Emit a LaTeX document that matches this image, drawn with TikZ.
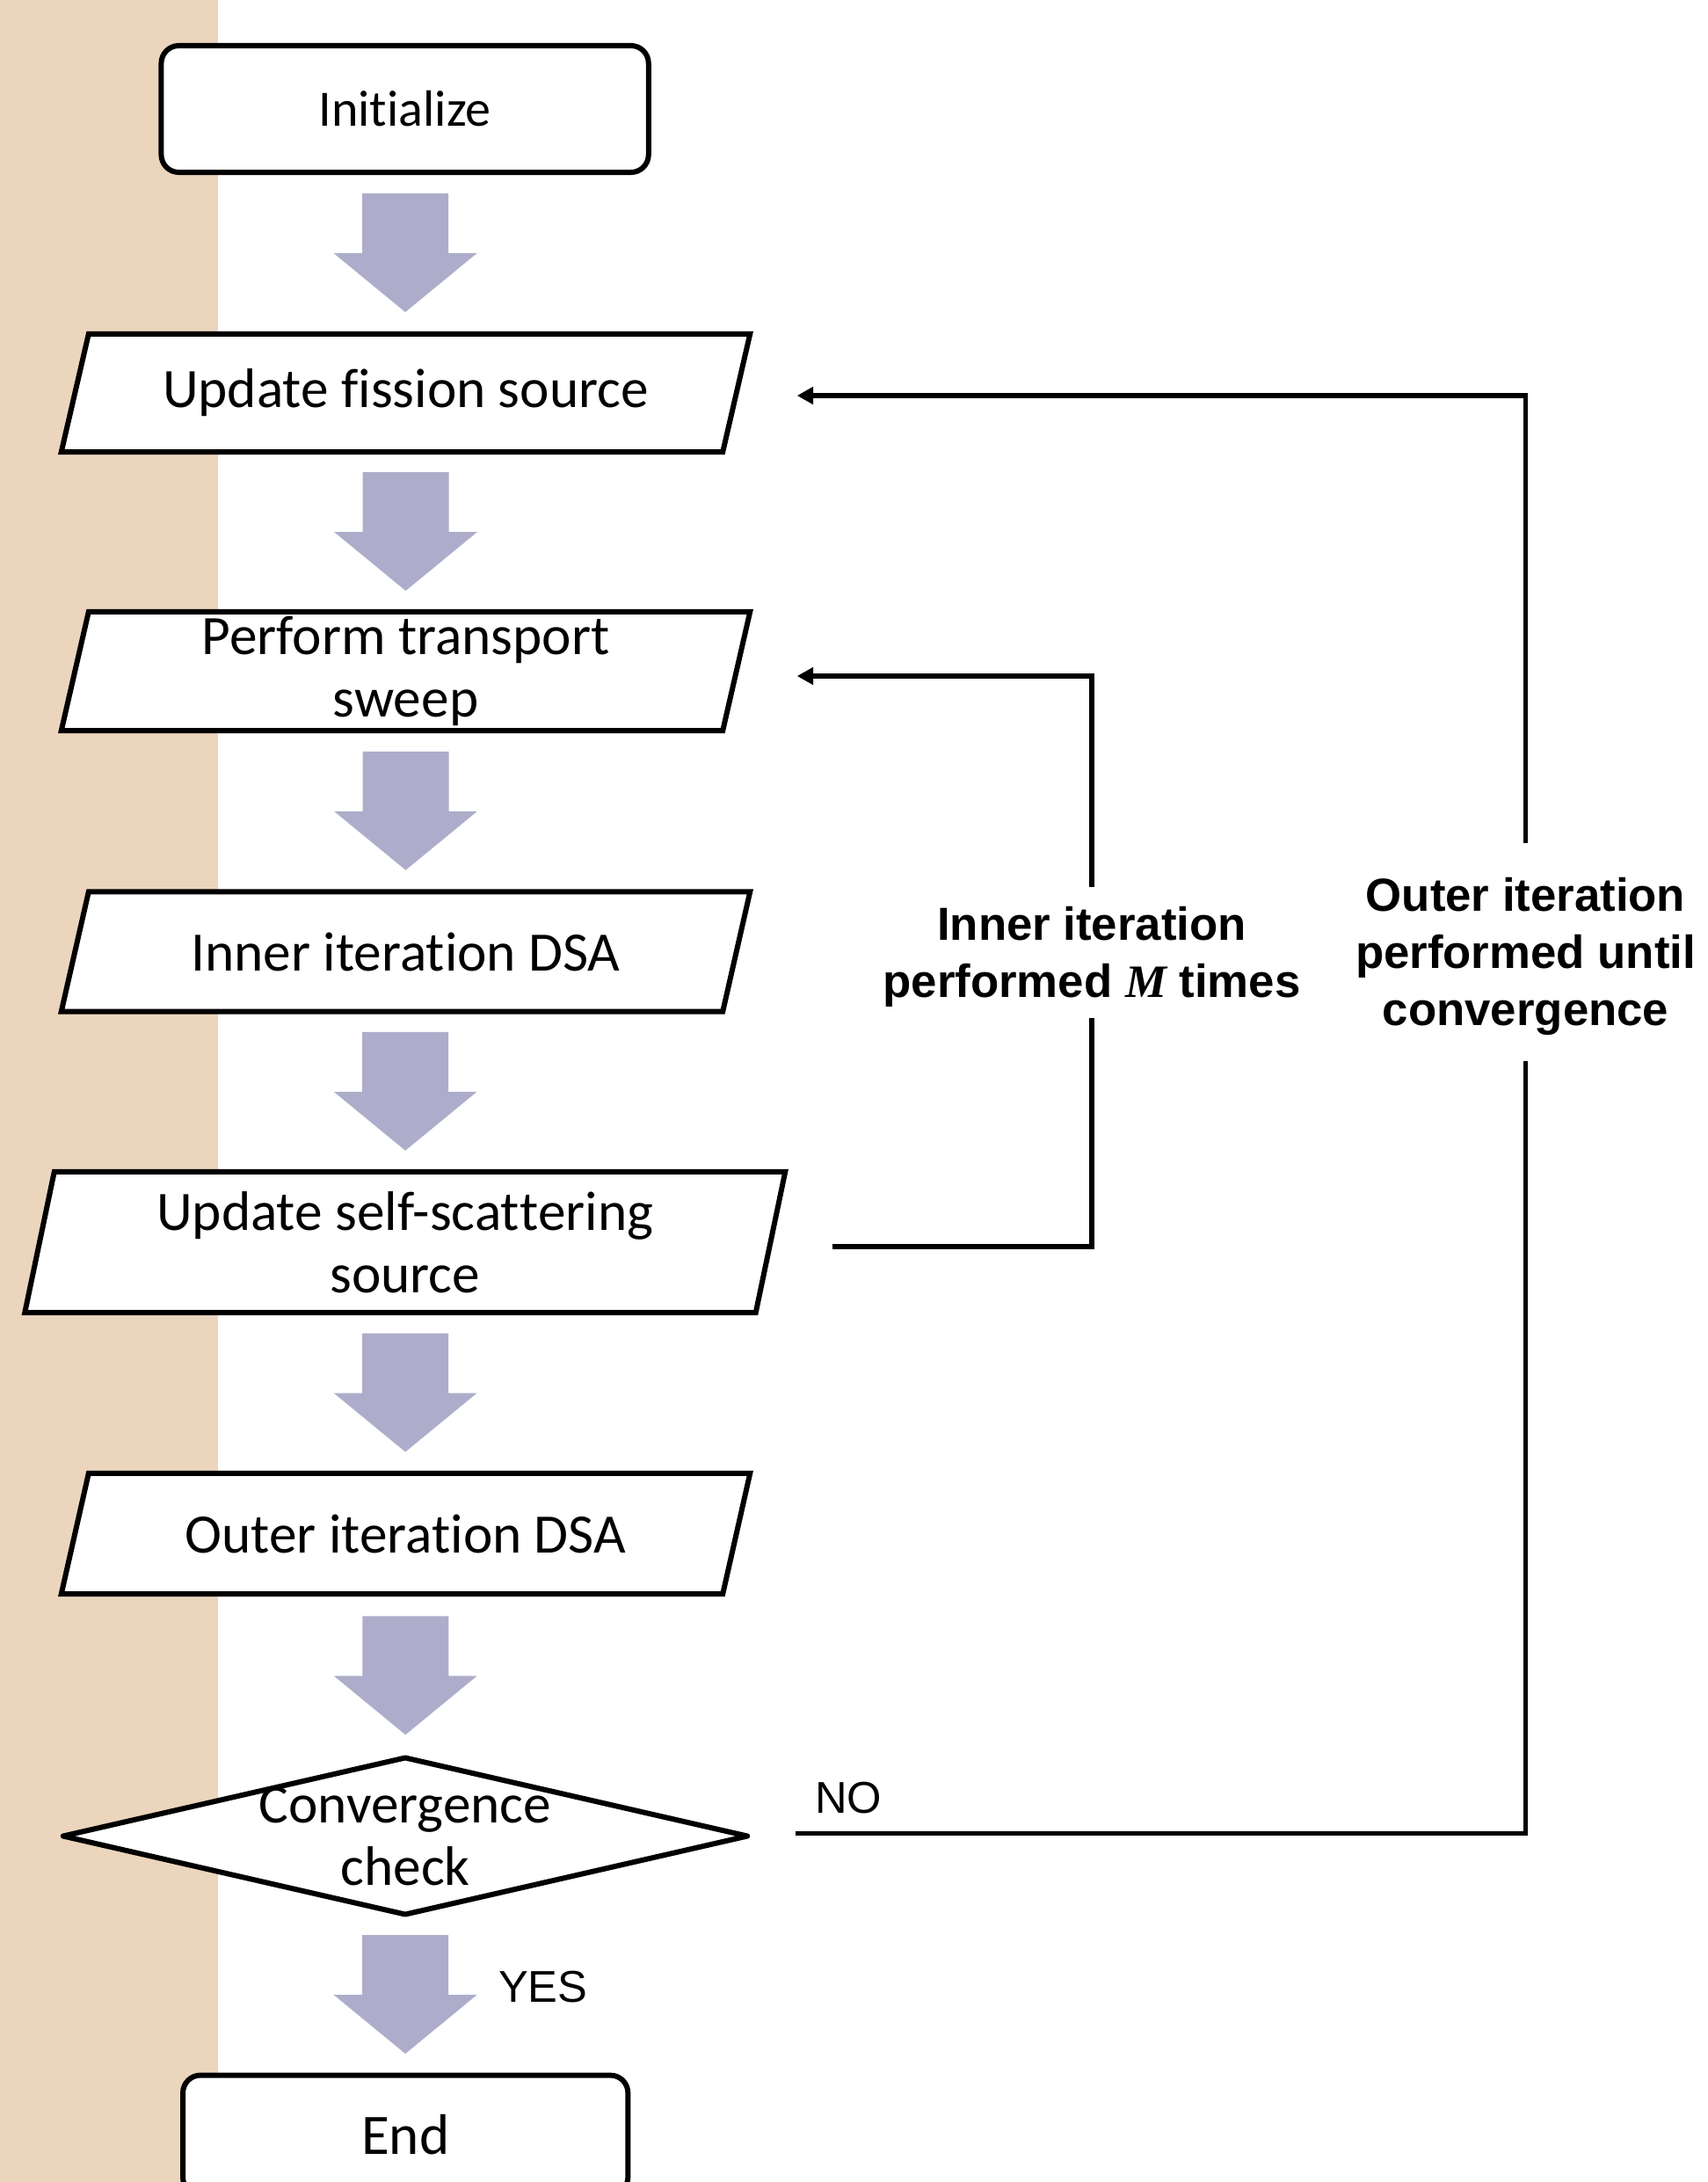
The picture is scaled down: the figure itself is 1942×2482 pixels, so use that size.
\documentclass[tikz,border=0pt]{standalone}
\usepackage{fontspec}
\setmainfont{Carlito}[RawFeature={-liga;-clig;-calt;-dlig}]
\newfontfamily\arialf{Liberation Sans}
\newfontfamily\mfont{Liberation Serif}
\usetikzlibrary{calc,arrows.meta,shapes.geometric}
\definecolor{beige}{HTML}{EBD5BD}
\definecolor{lav}{HTML}{ADADCB}
\pgfdeclarelayer{back}
\pgfdeclarelayer{shapes}
\pgfsetlayers{back,shapes,main}
\newcommand\nolig{\kern0pt{}}
\newcommand\parashape[2]{%
  \begin{pgfonlayer}{shapes}
    \draw[shapeline,fill=white] ($(#1.north west)+(#2,0)$) -- (#1.north east)
      -- ($(#1.south east)-(#2,0)$) -- (#1.south west) -- cycle;
  \end{pgfonlayer}}
\newcommand\blockarr[2]{%
  \begin{pgfonlayer}{shapes}
    \fill[lav,shift={($(#1.south)!0.5!(#2.north)$)}]
      (-49,-68) -- (49,-68) -- (49,0) -- (81.5,0) -- (0,67) -- (-81.5,0) -- (-49,0) -- cycle;
  \end{pgfonlayer}}
\begin{document}
\begin{tikzpicture}[x=0.01cm,y=-0.01cm,
  shapeline/.style={draw=black,line width=1.7pt,line join=miter},
  pbox/.style={rectangle,inner sep=0pt,outer sep=0pt,align=center,
    font=\fontsize{18pt}{20.2pt}\selectfont},
  rbox/.style={rectangle,rounded corners=0.2cm,draw=black,fill=white,line width=1.7pt,
    inner sep=0pt,outer sep=0pt,align=center},
  conn/.style={draw=black,line width=1.6pt,line join=miter},
  tipped/.style={-{Triangle[length=5.2pt,width=5.4pt]}},
  lbl/.style={inner sep=0pt,outer sep=0pt,align=center,
    font=\arialf\bfseries\fontsize{15pt}{18.4pt}\selectfont},
  yn/.style={inner sep=0pt,outer sep=0pt,font=\arialf\fontsize{14.4pt}{17pt}\selectfont}]
\useasboundingbox (0,0) rectangle (1942,2482);
\clip (0,0) rectangle (1942,2482);
\begin{pgfonlayer}{back}
  \fill[white] (0,0) rectangle (1942,2482);
  \fill[beige] (0,0) rectangle (248,2482);
\end{pgfonlayer}

% start / end
\node[rbox,minimum width=5.54cm,minimum height=1.44cm,font=\fontsize{16.5pt}{19pt}\selectfont]
  (init) at (460.6,124) {Init\nolig ialize};
\node[rbox,minimum width=5.06cm,minimum height=1.36cm,font=\fontsize{18.5pt}{21pt}\selectfont]
  (end) at (461.2,2428.6) {End};

% parallelogram steps
\node[pbox,minimum width=7.83cm,minimum height=1.34cm] (fis) at (461.5,447) {Update f\nolig ission source};
\parashape{fis}{31}
\node[pbox,minimum width=7.83cm,minimum height=1.35cm] (tr) at (461.5,763.5)
  {\raisebox{-0.9pt}{\parbox{6cm}{\centering Perform transport\\sweep}}};
\parashape{tr}{31}
\node[pbox,minimum width=7.83cm,minimum height=1.36cm] (inn) at (461.5,1082.5) {Inner iterat\nolig ion DSA};
\parashape{inn}{31}
\node[pbox,minimum width=8.645cm,minimum height=1.60cm] (ss) at (460.75,1413) {Update self-scat\nolig t\nolig ering\\source};
\parashape{ss}{33.5}
\node[pbox,minimum width=7.83cm,minimum height=1.37cm] (out) at (461.5,1744.5) {Outer iterat\nolig ion DSA};
\parashape{out}{31}

% decision
\node[diamond,draw=black,fill=white,line width=1.7pt,line join=round,inner sep=0pt,outer sep=0pt,
  minimum width=7.78cm,minimum height=1.78cm] (chk) at (461,2088.5) {};
\node[pbox] (chktxt) at (chk) {Convergence\\check};

% block arrows
\blockarr{init}{fis}
\blockarr{fis}{tr}
\blockarr{tr}{inn}
\blockarr{inn}{ss}
\blockarr{ss}{out}
\blockarr{out}{chk}
\blockarr{chk}{end}

% loop labels
\node[lbl,minimum height=1.494cm] (innerlbl) at (1242,1088.3)
  {Inner iteration\\performed {\mfont\bfseries\itshape M} times};
\node[lbl,minimum height=2.477cm] (outerlbl) at (1735.5,1088)
  {Outer iteration\\performed until\\convergence};

% loop connectors
\draw[conn] ($(ss.east)+(53.5,5)$) -| ($(innerlbl.south)+(0,-5)$);
\draw[conn,tipped] ($(innerlbl.north)+(0,-5)$) |- ($(tr.east)+(53.5,5.5)$);
\draw[conn] ($(chk.east)+(55,-3)$) -| ($(outerlbl.south)+(0,-5)$);
\draw[conn,tipped] ($(outerlbl.north)+(0,-5)$) |- ($(fis.east)+(53.5,3)$);

% yes / no
\node[yn,anchor=base west] (nolbl) at (927,2062) {NO};
\node[yn,anchor=base west] (yeslbl) at (567,2277) {YES};
\end{tikzpicture}
\end{document}
